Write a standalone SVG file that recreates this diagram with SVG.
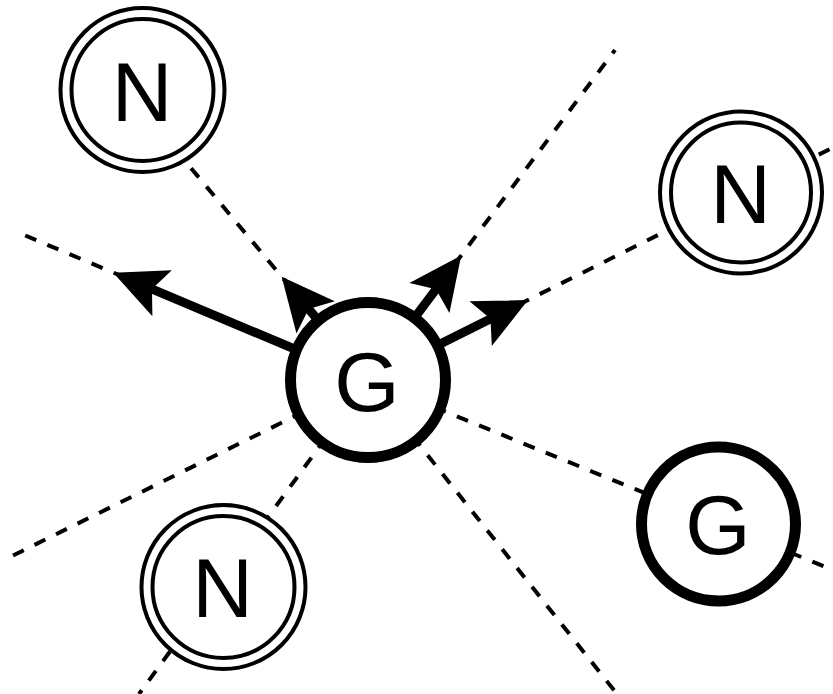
<svg xmlns="http://www.w3.org/2000/svg" width="833" height="694" viewBox="0 0 833 694">
  <style>
    .link { fill: none; stroke: #000; stroke-width: 4; stroke-dasharray: 12 12; }
    .push { fill: none; stroke: #000; stroke-width: 9; marker-end: url(#head); }
    .ring { fill: #fff; stroke: #000; stroke-width: 4; }
    .inner { fill: none; stroke: #000; stroke-width: 4; }
    .hub { fill: #fff; stroke: #000; stroke-width: 11; }
    .label { font-family: "Liberation Sans", Arial, sans-serif; font-size: 84px; text-anchor: middle; fill: #000; }
  </style>
  <defs>
    <marker id="head" markerUnits="userSpaceOnUse" viewBox="-56 -28 60 56" markerWidth="60" markerHeight="56" refX="-30" refY="0" orient="auto">
      <path d="M0,0 L-53,-25 L-42,0 L-53,25 Z" fill="#000"/>
    </marker>
  </defs>
  <rect width="833" height="694" fill="#fff"/>

  <g id="connectors">
    <!-- dashed links radiating from the central G -->
    <path class="link" d="M368,380 L17,232"/>
    <path class="link" d="M368,380 L160,131"/>
    <path class="link" d="M368,380 L615,50"/>
    <path class="link" d="M368,380 L833,147.5"/>
    <path class="link" d="M368,380 L833,570"/>
    <path class="link" d="M368,380 L617,694"/>
    <path class="link" d="M368,380 L10,557"/>
    <path class="link" d="M368,380 L139,694"/>
    <!-- solid arrows -->
    <path class="push" d="M368,380 L140.9,284.3"/>
    <path class="push" d="M368,380 L300.9,299.7"/>
    <path class="push" d="M368,380 L443.2,279.6"/>
    <path class="push" d="M368,380 L501.2,313.4"/>
  </g>

  <g id="n-top-left">
    <circle class="ring" cx="142.5" cy="90" r="82"/>
    <circle class="inner" cx="142.5" cy="90" r="71"/>
    <text class="label" x="142" y="121">N</text>
  </g>
  <g id="n-right">
    <circle class="ring" cx="741" cy="192.5" r="81"/>
    <circle class="inner" cx="741" cy="192.5" r="70"/>
    <text class="label" x="740.5" y="223">N</text>
  </g>
  <g id="n-bottom-left">
    <circle class="ring" cx="223.5" cy="587" r="82"/>
    <circle class="inner" cx="223.5" cy="587" r="71"/>
    <text class="label" x="222.5" y="617">N</text>
  </g>
  <g id="g-center">
    <circle class="hub" cx="368" cy="380" r="77.5"/>
    <text class="label" x="367" y="410.5">G</text>
  </g>
  <g id="g-right">
    <circle class="hub" cx="718.5" cy="524" r="77"/>
    <text class="label" x="718" y="554">G</text>
  </g>
</svg>
